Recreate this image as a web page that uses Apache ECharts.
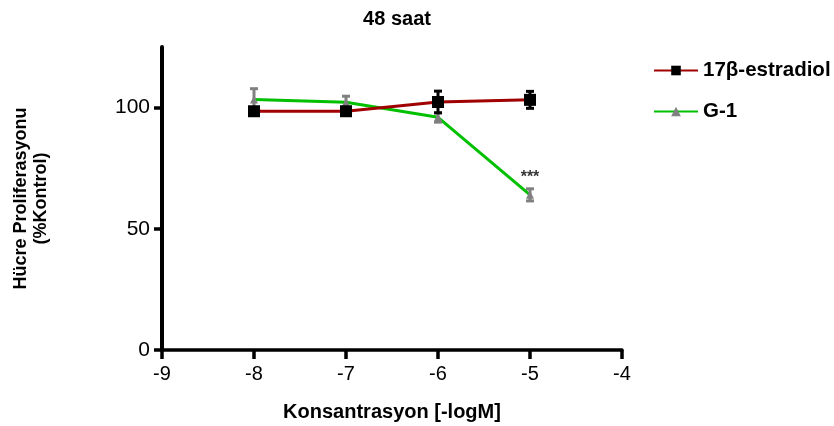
<!DOCTYPE html>
<html>
<head>
<meta charset="utf-8">
<script src="https://cdn.jsdelivr.net/npm/echarts@6/dist/echarts.min.js"></script>
<style>
html,body{margin:0;padding:0;background:#fff;}
#c{width:834px;height:426px;}
</style>
</head>
<body>
<div id="c"></div>
<script>
var xValues = [-8, -7, -6, -5];
var estradiolMean = [98.5, 98.5, 102.3, 103.2];
var estradiolErr = [1, 1, 4.5, 3.5];
var g1Mean = [103.3, 102.2, 96, 64];
var g1Err = [4.5, 2.5, 2, 2.5];
var xTicks = [-9, -8, -7, -6, -5, -4];
var yTicks = [0, 50, 100];
var sigX = [-5];
var sigY = [71];
var sigText = ['***'];

var font = 'Liberation Sans, Arial, sans-serif';

function pairs(xs, ys) { return xs.map(function (x, i) { return [x, ys[i]]; }); }
function errData(xs, m, e) { return xs.map(function (x, i) { return [x, m[i] - e[i], m[i] + e[i]]; }); }

function errRender(color) {
  return function (params, api) {
    var x = api.value(0);
    var lo = api.coord([x, api.value(1)]);
    var hi = api.coord([x, api.value(2)]);
    var hw = 4;
    var st = { stroke: color, lineWidth: 3 };
    return {
      type: 'group',
      children: [
        { type: 'line', shape: { x1: lo[0], y1: lo[1], x2: hi[0], y2: hi[1] }, style: st },
        { type: 'line', shape: { x1: lo[0] - hw, y1: lo[1], x2: lo[0] + hw, y2: lo[1] }, style: st },
        { type: 'line', shape: { x1: hi[0] - hw, y1: hi[1], x2: hi[0] + hw, y2: hi[1] }, style: st }
      ]
    };
  };
}

var chart = echarts.init(document.getElementById('c'));
chart.setOption({
  animation: false,
  backgroundColor: '#fff',
  title: {
    text: '48 saat',
    left: 392, textAlign: 'center', top: 4,
    textStyle: { fontFamily: font, fontWeight: 'bold', fontSize: 20, color: '#000' }
  },
  legend: {
    orient: 'vertical',
    left: 648, top: 55,
    itemWidth: 44, itemHeight: 12, itemGap: 20,
    textStyle: { fontFamily: font, fontWeight: 'bold', fontSize: 20.5, color: '#000' },
    data: ['17β-estradiol', 'G-1']
  },
  grid: { left: 162, right: 212, top: 47, bottom: 76, outerBoundsMode: 'none', containLabel: false },
  xAxis: {
    type: 'value', min: -9, max: -4, interval: 1,
    name: 'Konsantrasyon [-logM]', nameLocation: 'middle', nameGap: 52,
    nameTextStyle: { fontFamily: font, fontWeight: 'bold', fontSize: 20, color: '#000' },
    axisLine: { show: true, onZero: false, lineStyle: { color: '#000', width: 3.5 } },
    axisTick: { show: true, length: 9, lineStyle: { color: '#000', width: 3.5 } },
    axisLabel: { fontFamily: font, fontSize: 20, color: '#000', margin: 14 },
    splitLine: { show: false }
  },
  yAxis: {
    type: 'value', min: 0, max: 125, interval: 50,
    name: 'Hücre Proliferasyonu\n(%Kontrol)', nameLocation: 'middle', nameGap: 111, nameRotate: 90,
    nameTextStyle: { fontFamily: font, fontWeight: 'bold', fontSize: 18, color: '#000', lineHeight: 20 },
    axisLine: { show: true, onZero: false, lineStyle: { color: '#000', width: 4 } },
    axisTick: { show: true, length: 8, customValues: yTicks, lineStyle: { color: '#000', width: 3.5 } },
    axisLabel: { fontFamily: font, fontSize: 21, color: '#000', margin: 12, customValues: yTicks },
    splitLine: { show: false }
  },
  series: [
    {
      name: '17β-estradiol', type: 'line', data: pairs(xValues, estradiolMean),
      symbol: 'rect', symbolSize: 12, z: 3,
      lineStyle: { color: '#a00000', width: 3 },
      itemStyle: { color: '#000' }
    },
    {
      name: 'G-1', type: 'line', data: pairs(xValues, g1Mean),
      symbol: 'triangle', symbolSize: 8, z: 2,
      lineStyle: { color: '#00c000', width: 3 },
      itemStyle: { color: '#808080' }
    },
    {
      type: 'custom', name: 'errE', renderItem: errRender('#000'), data: errData(xValues, estradiolMean, estradiolErr), z: 4,
      encode: { x: 0, y: [1, 2] }
    },
    {
      type: 'custom', name: 'errG', renderItem: errRender('#808080'), data: errData(xValues, g1Mean, g1Err), z: 3,
      encode: { x: 0, y: [1, 2] }
    },
    {
      type: 'scatter', name: 'sig', symbolSize: 0, silent: true,
      data: sigX.map(function (x, i) { return { value: [x, sigY[i]], label: { formatter: sigText[i] } }; }),
      label: { show: true, position: 'inside', fontFamily: font, fontWeight: 'bold', fontSize: 16, color: '#000' }
    }
  ]
});
</script>
</body>
</html>
